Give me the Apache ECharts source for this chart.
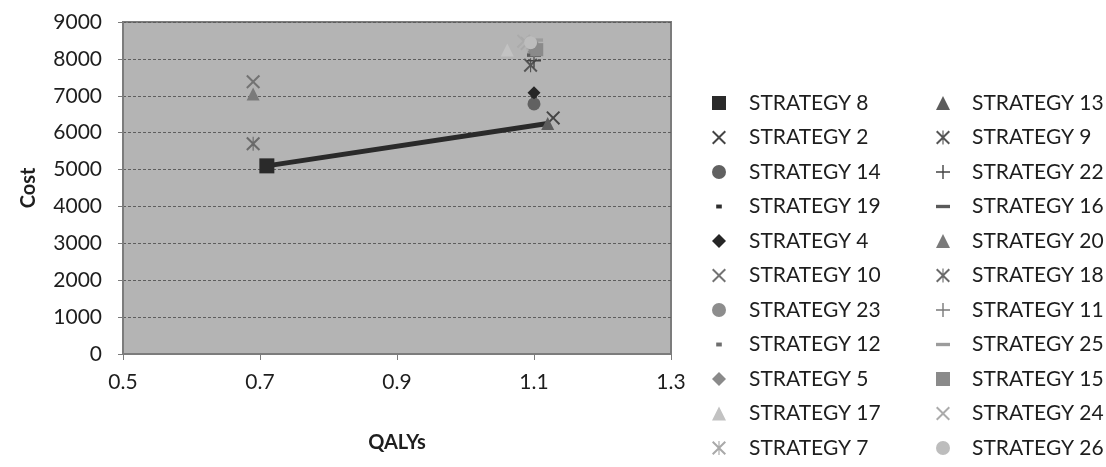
<!DOCTYPE html>
<html><head><meta charset="utf-8">
<script src="https://cdn.jsdelivr.net/npm/echarts@6/dist/echarts.min.js"></script>
<style>html,body{margin:0;padding:0;background:#fff}#c{width:1106px;height:467px}</style>
</head><body><div id="c"></div>
<script>
// ---- data ----
const strategies = ['STRATEGY 8','STRATEGY 2','STRATEGY 14','STRATEGY 19','STRATEGY 4','STRATEGY 10','STRATEGY 23','STRATEGY 12','STRATEGY 5','STRATEGY 17','STRATEGY 7',
                    'STRATEGY 13','STRATEGY 9','STRATEGY 22','STRATEGY 16','STRATEGY 20','STRATEGY 18','STRATEGY 11','STRATEGY 25','STRATEGY 15','STRATEGY 24','STRATEGY 26'];
const qalys = [0.71, 1.128, 1.10, 1.10, 1.10, 0.69, 1.097, 1.10, 1.10, 1.061, 1.09,
               1.12, 1.095, 1.10, 1.10, 0.69, 0.69, 1.10, 1.103, 1.104, 1.085, 1.095];
const costs = [5100, 6400, 6780, 6990, 7080, 7380, 8400, 8300, 8200, 8240, 8420,
               6250, 7830, 7950, 8100, 7050, 5700, 8150, 8510, 8250, 8480, 8440];
const frontier = ['STRATEGY 8','STRATEGY 13'];
const xTicks = {min:0.5, max:1.3, step:0.2};
const yTicks = {min:0, max:9000, step:1000};

// ---- styles ----
const P_X = 'path://M0,1L1,0L5,4L9,0L10,1L6,5L10,9L9,10L5,6L1,10L0,9L4,5Z';
const P_AST = 'path://M0,1L1,0L5,4L9,0L10,1L6,5L10,9L9,10L5,6L1,10L0,9L4,5Z M4.6,0H5.4V10H4.6Z';
const P_PLUS = 'path://M4.5,0H5.5V4.5H10V5.5H5.5V10H4.5V5.5H0V4.5H4.5Z';
const P_SDASH = 'path://M0,0M10,10M3,3.6H7V6.4H3Z';
const P_LDASH = 'path://M0,0M10,10M0,3.8H10V6.2H0Z';
const sty = {
 'STRATEGY 8': ['rect','#2a2a2a',15],
 'STRATEGY 2': [P_X,'#454545',14],
 'STRATEGY 14':['circle','#616161',13],
 'STRATEGY 19':[P_SDASH,'#2e2e2e',14],
 'STRATEGY 4': ['diamond','#262626',13],
 'STRATEGY 10':[P_X,'#737373',14],
 'STRATEGY 23':['circle','#8d8d8d',13],
 'STRATEGY 12':[P_SDASH,'#6e6e6e',14],
 'STRATEGY 5': ['diamond','#8a8a8a',13],
 'STRATEGY 17':['triangle','#c2c2c2',13],
 'STRATEGY 7': [P_AST,'#a9a9a9',14],
 'STRATEGY 13':['triangle','#5c5c5c',13],
 'STRATEGY 9': [P_AST,'#555555',14],
 'STRATEGY 22':[P_PLUS,'#444444',14],
 'STRATEGY 16':[P_LDASH,'#5a5a5a',14],
 'STRATEGY 20':['triangle','#7a7a7a',13],
 'STRATEGY 18':[P_AST,'#6a6a6a',14],
 'STRATEGY 11':[P_PLUS,'#7a7a7a',14],
 'STRATEGY 25':[P_LDASH,'#9c9c9c',14],
 'STRATEGY 15':['rect','#8a8a8a',13],
 'STRATEGY 24':[P_X,'#ababab',14],
 'STRATEGY 26':['circle','#bdbdbd',13]
};
const FONT = 'Lato, "Open Sans", sans-serif';

const scatter = strategies.map((n,i)=>({
  name:n, type:'scatter', data:[[qalys[i],costs[i]]],
  symbol: sty[n][0], symbolSize: sty[n][2], symbolKeepAspect:true,
  itemStyle:{color:sty[n][1], opacity:1}, z:3
}));
const lineData = frontier.map(n=>{const i=strategies.indexOf(n);return [qalys[i],costs[i]];});

const legendBase = {
  orient:'vertical', itemWidth:14, itemHeight:14, itemGap:10.5, padding:0,
  textStyle:{fontFamily:FONT,fontSize:21,color:'#1e1e1e',lineHeight:24},
  inactiveColor:'#ccc', selectedMode:false
};
const chart = echarts.init(document.getElementById('c'));
chart.setOption({
  animation:false,
  backgroundColor:'#fff',
  grid:{left:123,right:435,top:22,bottom:113,show:true,backgroundColor:'#b4b4b4',borderColor:'#7c7c7c',borderWidth:2},
  xAxis:{type:'value',min:xTicks.min,max:xTicks.max,interval:xTicks.step,
    name:'QALYs',nameLocation:'middle',nameGap:79,
    nameTextStyle:{fontFamily:FONT,fontSize:20,fontWeight:'bold',color:'#1e1e1e'},
    axisLine:{show:true,lineStyle:{color:'#7c7c7c',width:2}},
    axisTick:{show:true,length:6,lineStyle:{color:'#7c7c7c'}},
    axisLabel:{fontFamily:FONT,fontSize:21,color:'#1e1e1e',margin:18,formatter:v=>v.toFixed(1)},
    splitLine:{show:false}},
  yAxis:{type:'value',min:yTicks.min,max:yTicks.max,interval:yTicks.step,
    name:'Cost',nameLocation:'middle',nameGap:84,nameRotate:90,
    nameTextStyle:{fontFamily:FONT,fontSize:20,fontWeight:'bold',color:'#1e1e1e'},
    axisLine:{show:true,lineStyle:{color:'#7c7c7c',width:2}},
    axisTick:{show:true,length:5,lineStyle:{color:'#7c7c7c'}},
    axisLabel:{fontFamily:FONT,fontSize:21,color:'#1e1e1e',margin:21,formatter:v=>String(v)},
    splitLine:{show:true,lineStyle:{color:'#5e5e5e',type:[3,2],width:1}}},
  legend:[
    Object.assign({},legendBase,{left:712,top:91,data:strategies.slice(0,11),
      textStyle:Object.assign({},legendBase.textStyle,{padding:[0,0,0,18]})}),
    Object.assign({},legendBase,{left:936,top:91,data:strategies.slice(11),
      textStyle:Object.assign({},legendBase.textStyle,{padding:[0,0,0,17]})})
  ],
  series:[{type:'line',name:'frontier',data:lineData,symbol:'none',z:2,
     lineStyle:{color:'#2a2a2a',width:5},silent:true}].concat(scatter)
});
</script></body></html>
